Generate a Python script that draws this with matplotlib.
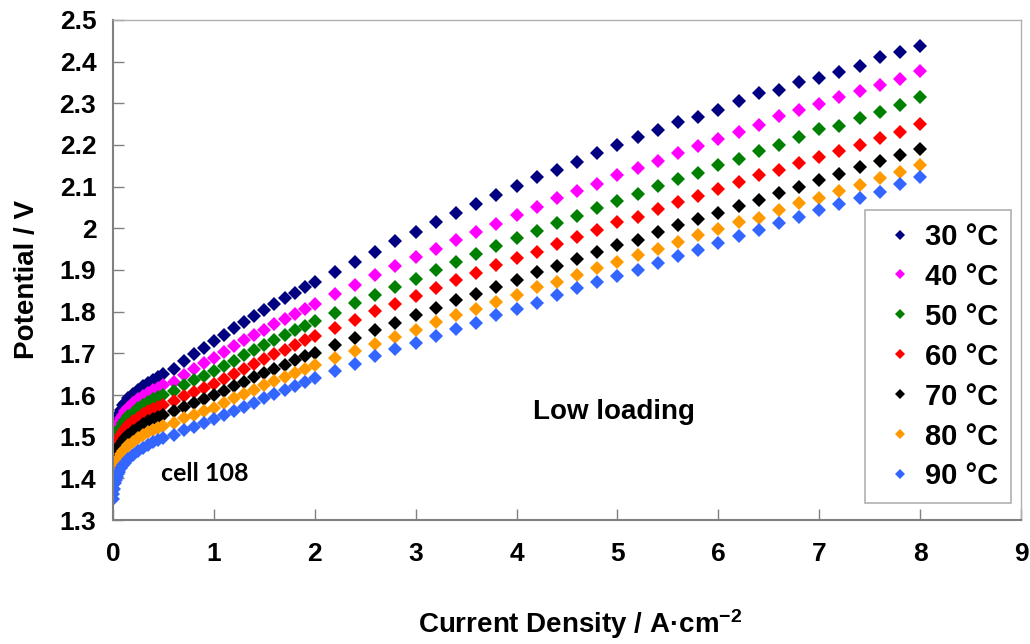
import matplotlib.pyplot as plt

# current density (A/cm2) at which each point was measured
x_low = [0, 0.005, 0.01, 0.02, 0.03, 0.04, 0.05, 0.06, 0.08, 0.1,
         0.12, 0.15, 0.2, 0.25, 0.3, 0.35, 0.4, 0.45, 0.5]
x_mid = [0.6, 0.7, 0.8, 0.9, 1.0, 1.1, 1.2, 1.3, 1.4, 1.5, 1.6, 1.7, 1.8, 1.9, 2.0]
x_high = [2.2, 2.4, 2.6, 2.8, 3.0, 3.2, 3.4, 3.6, 3.8, 4.0, 4.2, 4.4, 4.6, 4.8, 5.0,
          5.2, 5.4, 5.6, 5.8, 6.0, 6.2, 6.4, 6.6, 6.8, 7.0, 7.2, 7.4, 7.6, 7.8, 8.0]
current = x_low + x_mid + x_high

labels = ['30 °C', '40 °C', '50 °C', '60 °C', '70 °C', '80 °C', '90 °C']
colors = ['#000080', '#FF00FF', '#008000', '#FF0000', '#000000', '#FF9900', '#3366FF']

# cell potential (V), one list per temperature
v30 = [1.46, 1.48, 1.50, 1.52, 1.53, 1.54, 1.55, 1.555, 1.565, 1.575,
       1.582, 1.592, 1.603, 1.613, 1.622, 1.630, 1.637, 1.644, 1.650,
       1.663, 1.681, 1.699, 1.713, 1.729, 1.745, 1.761, 1.776, 1.790, 1.805,
       1.818, 1.832, 1.845, 1.858, 1.870,
       1.896, 1.920, 1.944, 1.969, 1.991, 2.014, 2.036, 2.058, 2.079, 2.101,
       2.122, 2.141, 2.160, 2.180, 2.201, 2.218, 2.235, 2.254, 2.267, 2.285,
       2.306, 2.325, 2.333, 2.351, 2.361, 2.375, 2.390, 2.412, 2.422, 2.438]
v40 = [1.45, 1.465, 1.48, 1.50, 1.51, 1.52, 1.53, 1.535, 1.545, 1.553,
       1.561, 1.570, 1.580, 1.590, 1.598, 1.605, 1.612, 1.618, 1.623,
       1.632, 1.647, 1.662, 1.676, 1.688, 1.704, 1.718, 1.732, 1.745, 1.757,
       1.770, 1.783, 1.795, 1.807, 1.819,
       1.843, 1.865, 1.888, 1.909, 1.930, 1.951, 1.972, 1.991, 2.010, 2.033,
       2.052, 2.072, 2.090, 2.107, 2.127, 2.144, 2.162, 2.181, 2.198, 2.215,
       2.232, 2.248, 2.269, 2.283, 2.298, 2.315, 2.330, 2.344, 2.359, 2.377]
v50 = [1.44, 1.452, 1.465, 1.48, 1.49, 1.50, 1.51, 1.515, 1.524, 1.532,
       1.540, 1.549, 1.558, 1.568, 1.576, 1.583, 1.590, 1.596, 1.601,
       1.610, 1.624, 1.637, 1.646, 1.657, 1.669, 1.682, 1.695, 1.708, 1.720,
       1.732, 1.743, 1.755, 1.766, 1.777,
       1.797, 1.820, 1.840, 1.859, 1.878, 1.899, 1.918, 1.938, 1.957, 1.977,
       1.994, 2.012, 2.030, 2.048, 2.065, 2.083, 2.101, 2.119, 2.133, 2.151,
       2.167, 2.185, 2.201, 2.218, 2.238, 2.246, 2.265, 2.280, 2.296, 2.315]
v60 = [1.42, 1.436, 1.45, 1.463, 1.472, 1.48, 1.49, 1.495, 1.504, 1.512,
       1.519, 1.528, 1.537, 1.546, 1.554, 1.561, 1.567, 1.572, 1.577,
       1.585, 1.597, 1.608, 1.618, 1.627, 1.638, 1.651, 1.663, 1.675, 1.687,
       1.698, 1.709, 1.720, 1.731, 1.741,
       1.760, 1.780, 1.801, 1.819, 1.838, 1.856, 1.875, 1.893, 1.912, 1.928,
       1.944, 1.962, 1.980, 1.996, 2.014, 2.028, 2.046, 2.062, 2.078, 2.094,
       2.111, 2.127, 2.140, 2.156, 2.172, 2.185, 2.201, 2.217, 2.232, 2.251]
v70 = [1.41, 1.422, 1.435, 1.447, 1.455, 1.462, 1.47, 1.475, 1.483, 1.49,
       1.497, 1.505, 1.513, 1.522, 1.530, 1.537, 1.543, 1.548, 1.553,
       1.561, 1.572, 1.582, 1.591, 1.600, 1.610, 1.621, 1.632, 1.643, 1.653,
       1.663, 1.673, 1.683, 1.693, 1.702,
       1.719, 1.736, 1.756, 1.773, 1.791, 1.809, 1.827, 1.843, 1.860, 1.877,
       1.894, 1.909, 1.927, 1.943, 1.959, 1.973, 1.990, 2.007, 2.022, 2.036,
       2.054, 2.068, 2.085, 2.098, 2.117, 2.131, 2.148, 2.162, 2.177, 2.190]
v80 = [1.39, 1.40, 1.41, 1.422, 1.43, 1.437, 1.445, 1.45, 1.458, 1.465,
       1.471, 1.479, 1.488, 1.496, 1.504, 1.511, 1.517, 1.522, 1.526,
       1.534, 1.544, 1.553, 1.562, 1.570, 1.581, 1.592, 1.603, 1.613, 1.623,
       1.633, 1.643, 1.653, 1.663, 1.672,
       1.690, 1.706, 1.723, 1.739, 1.757, 1.775, 1.791, 1.807, 1.823, 1.840,
       1.859, 1.872, 1.889, 1.904, 1.920, 1.935, 1.951, 1.967, 1.983, 1.998,
       2.014, 2.025, 2.043, 2.060, 2.073, 2.090, 2.104, 2.120, 2.135, 2.151]
v90 = [1.35, 1.362, 1.375, 1.388, 1.397, 1.404, 1.41, 1.415, 1.424, 1.432,
       1.438, 1.446, 1.456, 1.465, 1.473, 1.480, 1.487, 1.492, 1.497,
       1.505, 1.515, 1.524, 1.533, 1.542, 1.551, 1.562, 1.572, 1.582, 1.592,
       1.602, 1.612, 1.621, 1.631, 1.640,
       1.657, 1.675, 1.693, 1.710, 1.725, 1.741, 1.759, 1.773, 1.791, 1.806,
       1.822, 1.840, 1.857, 1.872, 1.886, 1.901, 1.917, 1.933, 1.949, 1.964,
       1.981, 1.996, 2.012, 2.027, 2.043, 2.059, 2.073, 2.088, 2.107, 2.122]
potentials = [v30, v40, v50, v60, v70, v80, v90]

plt.rcParams['font.family'] = ['Liberation Sans', 'DejaVu Sans']
plt.rcParams['font.weight'] = 'bold'
plt.rcParams['axes.labelweight'] = 'bold'
plt.rcParams['mathtext.default'] = 'regular'

fig = plt.figure(figsize=(10.3, 6.44), dpi=100)
ax = fig.add_axes([0.1097, 0.1925, 0.8816, 0.7765])

for v, lab, c in zip(potentials, labels, colors):
    ax.plot(current, v, linestyle='none', marker='D', markersize=6.8,
            markeredgewidth=0, color=c, label=lab)

ax.set_xlim(0, 9)
ax.set_ylim(1.3, 2.5)
ax.set_xticks(range(0, 10))
ax.set_yticks([1.3, 1.4, 1.5, 1.6, 1.7, 1.8, 1.9, 2.0, 2.1, 2.2, 2.3, 2.4, 2.5])
ax.set_yticklabels(['1.3', '1.4', '1.5', '1.6', '1.7', '1.8', '1.9', '2', '2.1',
                    '2.2', '2.3', '2.4', '2.5'])
ax.tick_params(axis='both', direction='in', length=8, width=1, color='#808080',
               labelsize=19)
ax.tick_params(axis='y', pad=12)
ax.tick_params(axis='x', pad=16)

for side in ['top', 'right']:
    ax.spines[side].set_color('#B0B0B0')
    ax.spines[side].set_linewidth(1)
for side in ['left', 'bottom']:
    ax.spines[side].set_color('#808080')
    ax.spines[side].set_linewidth(1.5)

ax.set_xlabel('Current Density / A·cm$^{-2}$', fontsize=20)
ax.xaxis.set_label_coords(0.514, -0.175)
ax.set_ylabel('Potential / V', fontsize=20)
ax.yaxis.set_label_coords(-0.080, 0.48)

ax.text(4.97, 1.56, 'Low loading', fontsize=20, ha='center', va='center')
ax.text(0.91, 1.412, 'cell 108', fontsize=18, ha='center', va='center',
        family=['Lato', 'DejaVu Sans'])

leg = ax.legend(loc='lower right', bbox_to_anchor=(0.989, 0.034), borderaxespad=0,
                fontsize=21, handletextpad=0.05, handlelength=1.6, markerscale=0.8,
                labelspacing=0.41, borderpad=0.43, fancybox=False, framealpha=1)
leg.get_frame().set_edgecolor('#B0B0B0')
leg.get_frame().set_linewidth(1.2)

fig.savefig('out.png', dpi=100)
